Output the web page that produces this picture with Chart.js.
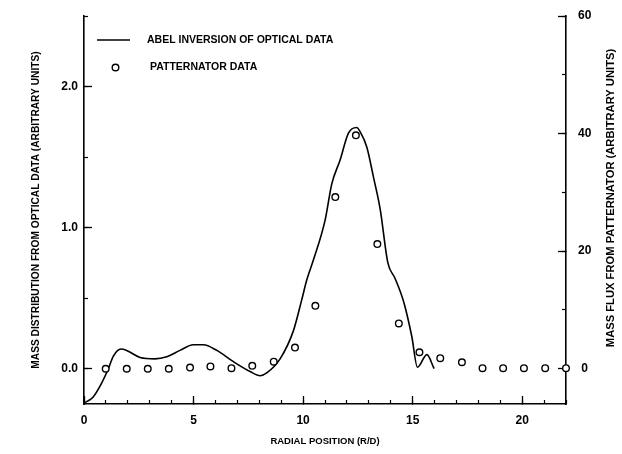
<!DOCTYPE html>
<html>
<head>
<meta charset="utf-8">
<title>Abel inversion vs patternator</title>
<script src="https://cdn.jsdelivr.net/npm/chart.js@4/dist/chart.umd.min.js"></script>
<style>
  html, body { margin: 0; padding: 0; background: #fff; }
  canvas { display: block; }
</style>
</head>
<body>
<canvas id="chart" width="622" height="454"></canvas>
<script>
// optical data (Abel inversion), left axis
const abelX = [0.05, 0.42, 0.81, 1.11, 1.34, 1.69, 1.95, 2.56, 3.24, 3.78, 4.38, 4.99, 5.45, 6.06, 6.82, 7.58, 8.04, 8.34, 8.95, 9.56, 9.94, 10.17, 10.47, 11.0, 11.31, 11.69, 12.07, 12.45, 12.6, 12.91, 13.21, 13.52, 13.87, 14.2, 14.6, 14.96, 15.22, 15.65, 15.98];
const abelY = [-0.24, -0.20, -0.10, 0.0, 0.09, 0.14, 0.13, 0.08, 0.07, 0.085, 0.13, 0.17, 0.17, 0.13, 0.05, -0.02, -0.05, -0.03, 0.07, 0.27, 0.49, 0.63, 0.77, 1.05, 1.31, 1.48, 1.67, 1.71, 1.68, 1.57, 1.36, 1.13, 0.75, 0.64, 0.47, 0.23, 0.01, 0.10, 0.0];

// patternator data, right axis
const patX = [0.99, 1.95, 2.91, 3.87, 4.84, 5.77, 6.73, 7.68, 8.66, 9.63, 10.56, 11.47, 12.41, 13.39, 14.37, 15.31, 16.26, 17.25, 18.19, 19.13, 20.08, 21.05, 22.0];
const patY = [0, 0, 0, 0, 0.2, 0.4, 0.1, 0.5, 1.2, 3.6, 10.7, 29.2, 39.7, 21.2, 7.7, 2.8, 1.8, 1.1, 0.1, 0.1, 0.1, 0.1, 0.1];

// axis ranges / ticks
const xRange = [0, 22];
const leftRange = [-0.25, 2.5];
const rightRange = [-6, 60];
const xMajor = 5, xMinor = 1;
const leftMajor = 1, leftMinor = 0.5;
const rightMajor = 20, rightMinor = 10;

const legendLabels = ['ABEL INVERSION OF OPTICAL DATA', 'PATTERNATOR DATA'];
const xTitle = 'RADIAL POSITION (R/D)';
const leftTitle = 'MASS DISTRIBUTION FROM OPTICAL DATA (ARBITRARY UNITS)';
const rightTitle = 'MASS FLUX FROM PATTERNATOR (ARBITRARY UNITS)';

const FONT = "'Liberation Sans', Arial, sans-serif";
const INK = '#000';

const zip = (xs, ys) => xs.map((x, i) => ({ x, y: ys[i] }));

// legend + right title drawn by hand (right title reads bottom-to-top)
const annotations = {
    id: 'annotations',
    afterDraw(chart) {
        const ctx = chart.ctx;
        ctx.save();
        ctx.fillStyle = INK;
        ctx.strokeStyle = INK;
        ctx.textBaseline = 'middle';
        ctx.font = `bold 10.5px ${FONT}`;

        // line sample
        ctx.lineWidth = 1.5;
        ctx.beginPath();
        ctx.moveTo(97, 40);
        ctx.lineTo(130, 40);
        ctx.stroke();
        ctx.fillText(legendLabels[0], 147, 40);

        // circle sample
        ctx.lineWidth = 1.4;
        ctx.beginPath();
        ctx.arc(115.5, 67.5, 3.3, 0, Math.PI * 2);
        ctx.stroke();
        ctx.fillText(legendLabels[1], 150, 67);

        // right axis title
        ctx.translate(611, 198);
        ctx.rotate(-Math.PI / 2);
        ctx.textAlign = 'center';
        ctx.font = `bold 11.2px ${FONT}`;
        ctx.fillText(rightTitle, 0, 0);
        ctx.restore();
    }
};

const tickFont = { family: FONT, size: 12, weight: 'bold' };

// fixed box sizes, no extra label padding added by the layout
function fixSize(size, horizontal) {
    return s => {
        if (horizontal) s.height = size; else s.width = size;
        s.paddingTop = 0;
        s.paddingBottom = 0;
        s.paddingLeft = 0;
        s.paddingRight = 0;
    };
}

function minorAxis(position, range, step, horizontal) {
    return {
        type: 'linear',
        position,
        weight: -1,
        min: range[0],
        max: range[1],
        ticks: { display: false, stepSize: step, includeBounds: false },
        grid: { drawOnChartArea: false, tickLength: -4, tickColor: INK, tickWidth: 1.2 },
        border: { display: false },
        afterFit: fixSize(0, horizontal)
    };
}

new Chart(document.getElementById('chart'), {
    type: 'scatter',
    data: {
        datasets: [
            {
                label: legendLabels[1],
                data: zip(patX, patY),
                yAxisID: 'y2',
                showLine: false,
                pointStyle: 'circle',
                pointRadius: 3.3,
                pointBorderWidth: 1.4,
                pointBorderColor: INK,
                pointBackgroundColor: '#fff',
                clip: false,
                order: 0
            },
            {
                label: legendLabels[0],
                data: zip(abelX, abelY),
                yAxisID: 'y',
                showLine: true,
                borderColor: INK,
                borderWidth: 1.6,
                pointRadius: 0,
                cubicInterpolationMode: 'monotone',
                clip: false,
                order: 1
            }
        ]
    },
    options: {
        responsive: false,
        animation: false,
        devicePixelRatio: 1,
        layout: { padding: { top: 16, left: 0, right: 0, bottom: 0 } },
        plugins: {
            legend: { display: false },
            tooltip: { enabled: false }
        },
        scales: {
            x: {
                type: 'linear',
                position: 'bottom',
                min: xRange[0],
                max: xRange[1],
                ticks: { stepSize: xMajor, includeBounds: false, color: INK, font: tickFont, padding: 17, maxRotation: 0 },
                grid: { drawOnChartArea: false, tickLength: -8, tickColor: INK, tickWidth: 1.3 },
                border: { color: INK, width: 1.6 },
                title: {
                    display: true,
                    text: xTitle,
                    color: INK,
                    font: { family: FONT, size: 9.5, weight: 'bold' },
                    padding: { top: 0, bottom: 7 }
                },
                afterFit: fixSize(50, true)
            },
            xMinor: minorAxis('bottom', xRange, xMinor, true),
            y: {
                type: 'linear',
                position: 'left',
                min: leftRange[0],
                max: leftRange[1],
                ticks: {
                    stepSize: leftMajor,
                    includeBounds: false,
                    color: INK,
                    font: tickFont,
                    padding: 14,
                    callback: v => v.toFixed(1)
                },
                grid: { drawOnChartArea: false, tickLength: -8, tickColor: INK, tickWidth: 1.3 },
                border: { color: INK, width: 1.6 },
                title: {
                    display: true,
                    text: leftTitle,
                    color: INK,
                    font: { family: FONT, size: 10.2, weight: 'bold' },
                    padding: { top: 30, bottom: 0 }
                },
                afterFit: fixSize(84, false)
            },
            yMinor: minorAxis('left', leftRange, leftMinor, false),
            y2: {
                type: 'linear',
                position: 'right',
                min: rightRange[0],
                max: rightRange[1],
                ticks: { stepSize: rightMajor, includeBounds: false, color: INK, font: tickFont, padding: 20, crossAlign: 'center' },
                grid: { drawOnChartArea: false, tickLength: -8, tickColor: INK, tickWidth: 1.3 },
                border: { color: INK, width: 1.6 },
                afterFit: fixSize(56, false)
            },
            y2Minor: minorAxis('right', rightRange, rightMinor, false)
        }
    },
    plugins: [annotations]
});
</script>
</body>
</html>
